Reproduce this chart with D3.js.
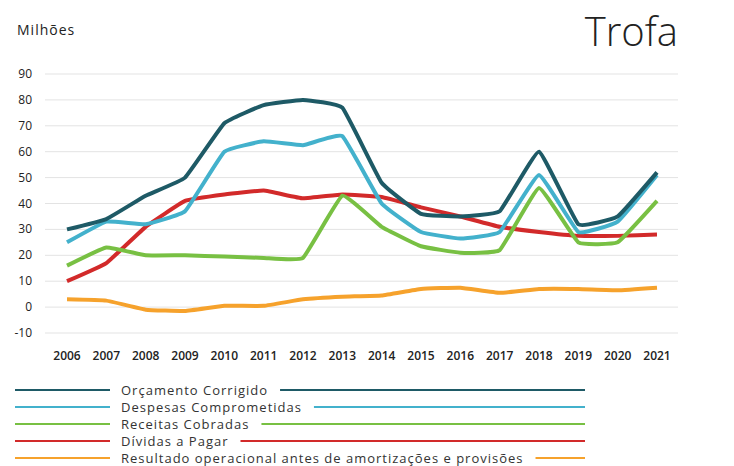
<!DOCTYPE html>
<html><head><meta charset="utf-8">
<script src="https://cdn.jsdelivr.net/npm/d3@7"></script>
<style>body{margin:0;background:#fff}text{font-family:"Open Sans",sans-serif}</style>
</head><body><svg id="c" width="734" height="466"></svg>
<script>
const years = d3.range(2006, 2022);
const orcamento = [30, 34, 43, 50, 71, 78, 80, 77, 48, 36, 35, 37, 60, 32, 35, 52];
const despesas = [25, 33, 32, 37, 60, 64, 62.5, 66, 40, 29, 26.5, 29, 51, 29, 33, 51];
const receitas = [16, 23, 20, 20, 19.5, 19, 19, 43, 31, 23.5, 21, 22, 46, 25, 25, 41];
const dividas = [10, 17, 31, 41, 43.5, 45, 42, 43.5, 42.5, 38.5, 35, 31, 29, 27.5, 27.5, 28];
const resultado = [3, 2.5, -1, -1.5, 0.5, 0.5, 3, 4, 4.5, 7, 7.5, 5.5, 7, 7, 6.5, 7.5];
const yTicks = [-10, 0, 10, 20, 30, 40, 50, 60, 70, 80, 90];

const series = [
  { name: 'Orçamento Corrigido', values: orcamento, color: '#1e5a66' },
  { name: 'Despesas Comprometidas', values: despesas, color: '#43b1cc' },
  { name: 'Receitas Cobradas', values: receitas, color: '#78c043' },
  { name: 'Dívidas a Pagar', values: dividas, color: '#d22a2a' },
  { name: 'Resultado operacional antes de amortizações e provisões', values: resultado, color: '#f6a22c' },
];

const svg = d3.select('#c');
const x = d3.scaleLinear().domain([2006, 2021]).range([67, 657]);
const y = d3.scaleLinear().domain([-10, 90]).range([333, 74]);

svg.append('g').selectAll('line').data(yTicks).enter().append('line')
  .attr('x1', 45).attr('x2', 678)
  .attr('y1', (d) => y(d)).attr('y2', (d) => y(d))
  .attr('stroke', '#e3e3e3');

svg.append('g').selectAll('text').data(yTicks).enter().append('text')
  .attr('x', 32).attr('y', (d) => y(d) + 4).attr('text-anchor', 'end')
  .attr('font-size', 12).attr('fill', '#222').text((d) => d);

svg.append('g').selectAll('text').data(years).enter().append('text')
  .attr('x', (d) => x(d)).attr('y', 360).attr('text-anchor', 'middle')
  .attr('font-size', 12).attr('font-weight', 600).attr('fill', '#222').text((d) => d);

const line = d3.line().x((d, i) => x(years[i])).y((d) => y(d)).curve(d3.curveCardinal.tension(0.7));
[...series].reverse().forEach((s) => {
  svg.append('path').attr('d', line(s.values)).attr('fill', 'none')
    .attr('stroke', s.color).attr('stroke-width', 4).attr('stroke-linejoin', 'round');
});

svg.append('text').attr('x', 17).attr('y', 35).attr('font-size', 14).attr('fill', '#222')
  .attr('letter-spacing', 1).text('Milhões');
svg.append('text').attr('x', 678).attr('y', 46).attr('text-anchor', 'end')
  .attr('font-size', 40).attr('font-weight', 300).attr('fill', '#222').text('Trofa');

// Legend: line broken by label
series.forEach((s, i) => {
  const ly = 390 + i * 17;
  const g = svg.append('g');
  const t = g.append('text').attr('x', 121).attr('y', ly + 5).attr('font-size', 13)
    .attr('letter-spacing', 1).attr('fill', '#333').text(s.name);
  const w = t.node().getComputedTextLength();
  g.append('line').attr('x1', 15).attr('x2', 110).attr('y1', ly).attr('y2', ly)
    .attr('stroke', s.color).attr('stroke-width', 2);
  g.append('line').attr('x1', 121 + w + 12).attr('x2', 585).attr('y1', ly).attr('y2', ly)
    .attr('stroke', s.color).attr('stroke-width', 2);
});
</script></body></html>
